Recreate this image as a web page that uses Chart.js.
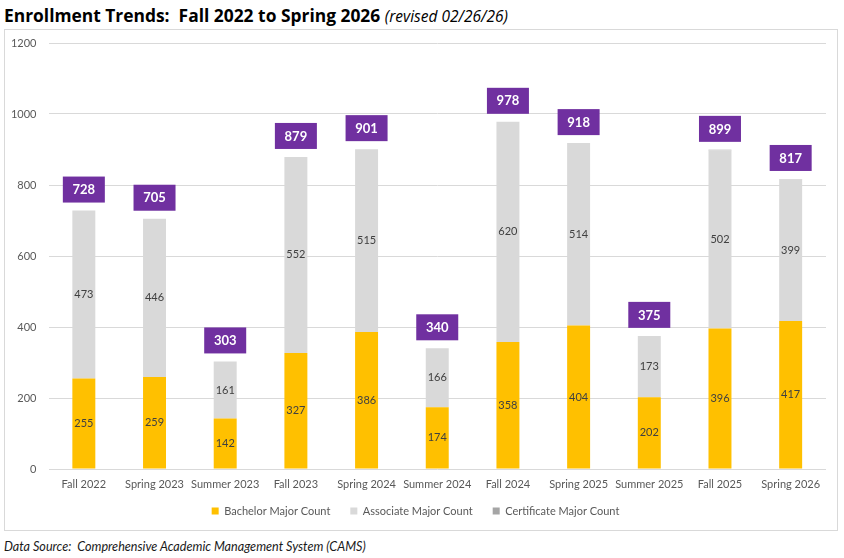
<!DOCTYPE html>
<html>
<head>
<meta charset="utf-8">
<script src="https://cdn.jsdelivr.net/npm/chart.js@4/dist/chart.umd.min.js"></script>
<style>
  body { margin: 0; background: #fff; width: 844px; height: 558px; position: relative; overflow: hidden; }
  .title { position: absolute; left: 4px; top: 3px; font-family: "Open Sans", sans-serif; font-weight: bold; font-size: 17.4px; color: #000; white-space: nowrap; }
  .title i { font-weight: normal; font-size: 15.5px; }
  .frame { position: absolute; left: 4px; top: 29px; width: 832px; height: 500px; border: 1px solid #d9d9d9; }
  .source { position: absolute; left: 4px; top: 539px; font-family: "Lato", sans-serif; font-style: italic; font-size: 12.6px; color: #1a1a1a; white-space: nowrap; }
</style>
</head>
<body>
<div class="title">Enrollment Trends:&nbsp; Fall 2022 to Spring 2026 <i>(revised 02/26/26)</i></div>
<div class="frame"><canvas id="enrollChart" width="832" height="500"></canvas></div>
<div class="source">Data Source:&nbsp; Comprehensive Academic Management System (CAMS)</div>
<script>
const terms = ["Fall 2022", "Spring 2023", "Summer 2023", "Fall 2023", "Spring 2024", "Summer 2024",
  "Fall 2024", "Spring 2025", "Summer 2025", "Fall 2025", "Spring 2026"];
const bachelorCounts = [255, 259, 142, 327, 386, 174, 358, 404, 202, 396, 417];
const associateCounts = [473, 446, 161, 552, 515, 166, 620, 514, 173, 502, 399];
const certificateCounts = [0, 0, 0, 0, 0, 0, 0, 0, 0, 1, 1];
const yTicks = [0, 200, 400, 600, 800, 1000, 1200];

// labels inside segments + purple total boxes
const labelPlugin = {
  id: "segmentLabels",
  afterDatasetsDraw(chart) {
    const ctx = chart.ctx;
    ctx.save();
    ctx.textAlign = "center";
    ctx.textBaseline = "middle";
    [0, 1].forEach((di) => {
      const meta = chart.getDatasetMeta(di);
      ctx.font = "11px Lato";
      ctx.fillStyle = "#404040";
      meta.data.forEach((bar, i) => {
        const v = chart.data.datasets[di].data[i];
        if (!v) return;
        ctx.fillText(v, bar.x, (bar.y + bar.base) / 2);
      });
    });
    const topMeta = chart.getDatasetMeta(2);
    topMeta.data.forEach((bar, i) => {
      const total = bachelorCounts[i] + associateCounts[i] + certificateCounts[i];
      const w = 42, h = 26;
      const bottom = bar.y - 8;
      ctx.fillStyle = "#7030A0";
      ctx.fillRect(bar.x - w / 2, bottom - h, w, h);
      ctx.fillStyle = "#ffffff";
      ctx.font = "bold 13px Lato";
      ctx.fillText(total, bar.x, bottom - h / 2 + 0.5);
    });
    ctx.restore();
  }
};

const ctx = document.getElementById("enrollChart");
new Chart(ctx, {
  type: "bar",
  data: {
    labels: terms,
    datasets: [
      { label: "Bachelor Major Count", data: bachelorCounts, backgroundColor: "#FFC000" },
      { label: "Associate Major Count", data: associateCounts, backgroundColor: "#D9D9D9" },
      { label: "Certificate Major Count", data: certificateCounts, backgroundColor: "#A5A5A5" }
    ]
  },
  options: {
    responsive: false,
    animation: false,
    layout: { padding: { top: 13, right: 11, bottom: 3.5, left: 0 } },
    datasets: { bar: { categoryPercentage: 1, barPercentage: 0.325 } },
    plugins: {
      legend: {
        position: "bottom",
        labels: {
          boxWidth: 7, boxHeight: 7, padding: 20,
          color: "#595959",
          font: { family: "Lato", size: 11 }
        }
      },
      tooltip: { enabled: false }
    },
    scales: {
      x: {
        stacked: true,
        grid: { display: false, drawTicks: false },
        border: { display: false },
        // mirror keeps the labels from being clipped to the short axis box
        ticks: { color: "#595959", font: { family: "Lato", size: 11 }, mirror: true, padding: -21.6, maxRotation: 0, autoSkip: false },
        afterFit: (scale) => { scale.height = 16.5; }
      },
      y: {
        stacked: true,
        min: 0, max: 1200,
        afterBuildTicks: (scale) => { scale.ticks = yTicks.map((v) => ({ value: v })); },
        grid: { color: "#D9D9D9", drawTicks: false },
        border: { display: false },
        ticks: { color: "#595959", font: { family: "Lato", size: 11 }, padding: 12, callback: (v) => String(v) },
        afterFit: (scale) => { scale.width = 43.5; scale.paddingTop = 0; scale.paddingBottom = 0; }
      }
    }
  },
  plugins: [labelPlugin]
});
</script>
</body>
</html>
